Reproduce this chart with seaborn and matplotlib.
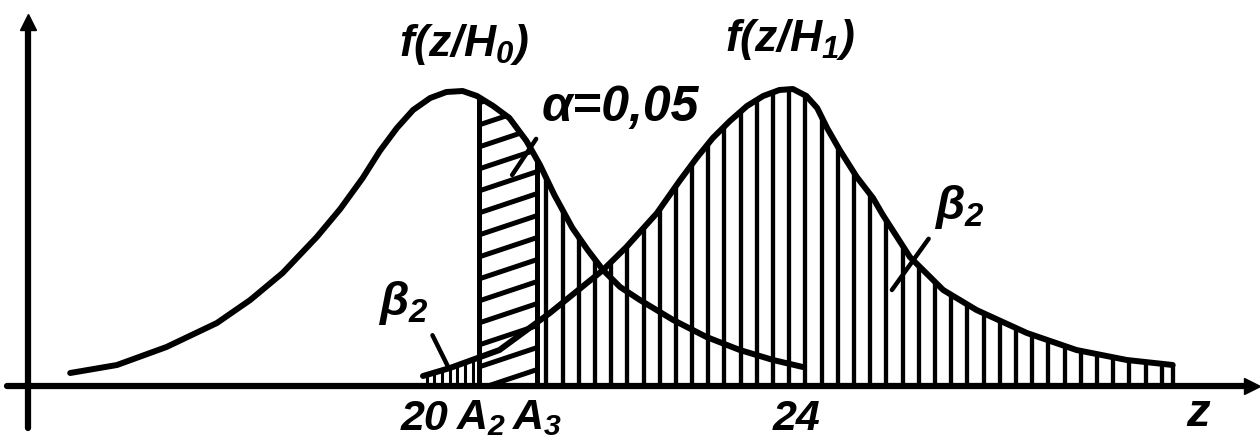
import numpy as np
import pandas as pd
import matplotlib
matplotlib.use("Agg")
import matplotlib.pyplot as plt
from matplotlib.patches import Polygon
from matplotlib.transforms import ScaledTranslation
import seaborn as sns

sns.set_theme(style="white")
plt.rcParams["font.family"] = ["Liberation Sans", "DejaVu Sans"]
plt.rcParams["mathtext.fontset"] = "custom"
plt.rcParams["mathtext.rm"] = "Liberation Sans:bold:italic"
plt.rcParams["mathtext.it"] = "Liberation Sans:bold:italic"
plt.rcParams["mathtext.bf"] = "Liberation Sans:bold:italic"

# density of the statistic under H0
z_h0 = [16.06, 16.58, 17.13, 17.69, 18.06, 18.42, 18.80, 19.06, 19.31, 19.50,
        19.69, 19.87, 20.06, 20.24, 20.42, 20.58, 20.76, 20.94, 21.13, 21.28,
        21.44, 21.64, 21.81, 21.98, 22.17, 22.39, 22.76, 23.13, 23.50, 23.87,
        24.20]
f_h0 = [0.13, 0.21, 0.39, 0.63, 0.86, 1.13, 1.49, 1.77, 2.08, 2.35,
        2.58, 2.76, 2.88, 2.94, 2.95, 2.90, 2.80, 2.68, 2.45, 2.21,
        1.91, 1.58, 1.36, 1.16, 0.99, 0.86, 0.66, 0.49, 0.36, 0.26,
        0.19]

# density of the statistic under H1
z_h1 = [19.98, 20.28, 20.83, 21.39, 21.98, 22.24, 22.58, 22.83, 23.02, 23.20,
        23.39, 23.58, 23.76, 23.94, 24.09, 24.24, 24.36, 24.47, 24.61, 24.80,
        24.98, 25.09, 25.39, 25.76, 26.13, 26.69, 27.24, 27.80, 28.31]
f_h1 = [0.10, 0.18, 0.36, 0.73, 1.16, 1.39, 1.73, 2.05, 2.28, 2.48,
        2.65, 2.80, 2.90, 2.96, 2.97, 2.90, 2.78, 2.58, 2.36, 2.09,
        1.88, 1.71, 1.29, 0.96, 0.76, 0.53, 0.36, 0.26, 0.21]

# critical bounds
A2 = 20.6
A3 = 21.25

tick_pos = [20, A2, A3, 24]
tick_labels = ["20", "$A_2$", "$A_3$", "24"]
tick_shift_px = [0, 2, 0, 12]

label_h0 = "$f(z/H_0)$"
label_h1 = "$f(z/H_1)$"
label_alpha = "α=0,05"
label_beta = "$β_2$"

# drawing frame
z_min, z_max = 15.28, 29.28
y_min, y_max = -0.61, 3.86
z_origin = 15.59
y_top = 3.64
y_bottom = -0.42
z_end = 29.19

INK = "black"

fig = plt.figure(figsize=(12.6, 4.47), dpi=100)
ax = fig.add_axes([0, 0, 1, 1])
ax.set_xlim(z_min, z_max)
ax.set_ylim(y_min, y_max)

df0 = pd.DataFrame({"z": z_h0, "f": f_h0})
df1 = pd.DataFrame({"z": z_h1, "f": f_h1})
sns.lineplot(data=df0, x="z", y="f", color=INK, lw=4.3, ax=ax,
             solid_capstyle="round", solid_joinstyle="round")
sns.lineplot(data=df1, x="z", y="f", color=INK, lw=4.3, ax=ax,
             solid_capstyle="round", solid_joinstyle="round")


def h0(z):
    return np.interp(z, z_h0, f_h0, left=0, right=0)


def h1(z):
    return np.interp(z, z_h1, f_h1, left=0, right=0)


# vertical hatching of the beta region right of A3
zz = np.arange(A3 + 0.1, z_h1[-1] + 0.01, 0.18)
ax.vlines(zz, 0, np.maximum(h0(zz), h1(zz)), color=INK, lw=3.1)
ax.vlines([z_h1[-1]], 0, h1(z_h1[-1]), color=INK, lw=3.1)

# fine hatching of the small beta region left of A2
zs = np.arange(z_h1[0] + 0.04, A2, 0.085)
ax.vlines(zs, 0, h1(zs), color=INK, lw=2.2)

# slanted hatching of the alpha region between A2 and A3
za = np.linspace(A2, A3, 30)
verts = np.column_stack([np.r_[za, za[::-1]], np.r_[h0(za), np.zeros_like(za)]])
clip = Polygon(verts, closed=True, fc="none", ec="none", transform=ax.transData)
ax.add_patch(clip)
slope = 0.3
for c in np.arange(-0.25, 3.2, 0.22):
    ln, = ax.plot([A2, A3], [c, c + slope * (A3 - A2)], color=INK, lw=3.6,
                  solid_capstyle="butt")
    ln.set_clip_path(clip)
ax.vlines([A2, A3], 0, h0(np.array([A2, A3])), color=INK, lw=3.6)

# coordinate axes
for side in ["top", "right"]:
    ax.spines[side].set_visible(False)
ax.spines["left"].set_position(("data", z_origin))
ax.spines["left"].set_bounds(y_bottom, y_top)
ax.spines["bottom"].set_position(("data", 0))
ax.spines["bottom"].set_bounds(15.36, z_end)
for side in ["left", "bottom"]:
    ax.spines[side].set_linewidth(4.5)
    ax.spines[side].set_color(INK)
    ax.spines[side].set_capstyle("round")
ax.plot([z_origin], [y_top], marker="^", ms=11, color=INK, clip_on=False)
ax.plot([z_end], [0], marker=">", ms=11, color=INK, clip_on=False)

ax.set_yticks([])
ax.set_xticks(tick_pos, tick_labels)
ax.tick_params(axis="x", length=0, pad=9, labelsize=31, colors=INK)
for lbl, dx in zip(ax.get_xticklabels(), tick_shift_px):
    lbl.set_fontstyle("italic")
    lbl.set_fontweight("bold")
    lbl.set_transform(lbl.get_transform()
                      + ScaledTranslation(dx / fig.dpi, 0, fig.dpi_scale_trans))
ax.set_xlabel("")
ax.set_ylabel("")
ax.text(28.59, -0.28, "z", fontsize=34, fontstyle="italic", fontweight="bold",
        ha="center", va="center", color=INK)

# curve labels
ax.text(20.44, 3.41, label_h0, fontsize=32, ha="center", va="center", color=INK)
ax.text(24.06, 3.46, label_h1, fontsize=32, ha="center", va="center", color=INK)

# region labels with leader lines
ax.annotate(label_alpha, xy=(20.97, 2.11), xytext=(22.17, 2.78),
            ha="center", va="center", fontsize=36, fontstyle="italic",
            fontweight="bold", color=INK,
            arrowprops=dict(arrowstyle="-", lw=3.2, color=INK,
                            relpos=(0.0, 0.0), shrinkA=4, shrinkB=0))
ax.annotate(label_beta, xy=(25.19, 0.96), xytext=(25.94, 1.79),
            ha="center", va="center", fontsize=34, color=INK,
            arrowprops=dict(arrowstyle="-", lw=3.2, color=INK,
                            relpos=(0.0, 0.0), shrinkA=4, shrinkB=0))
ax.annotate(label_beta, xy=(20.26, 0.19), xytext=(19.76, 0.83),
            ha="center", va="center", fontsize=34, color=INK,
            arrowprops=dict(arrowstyle="-", lw=3.2, color=INK,
                            relpos=(1.0, 0.0), shrinkA=4, shrinkB=0))

fig.savefig("out.png", dpi=100, facecolor="white")
